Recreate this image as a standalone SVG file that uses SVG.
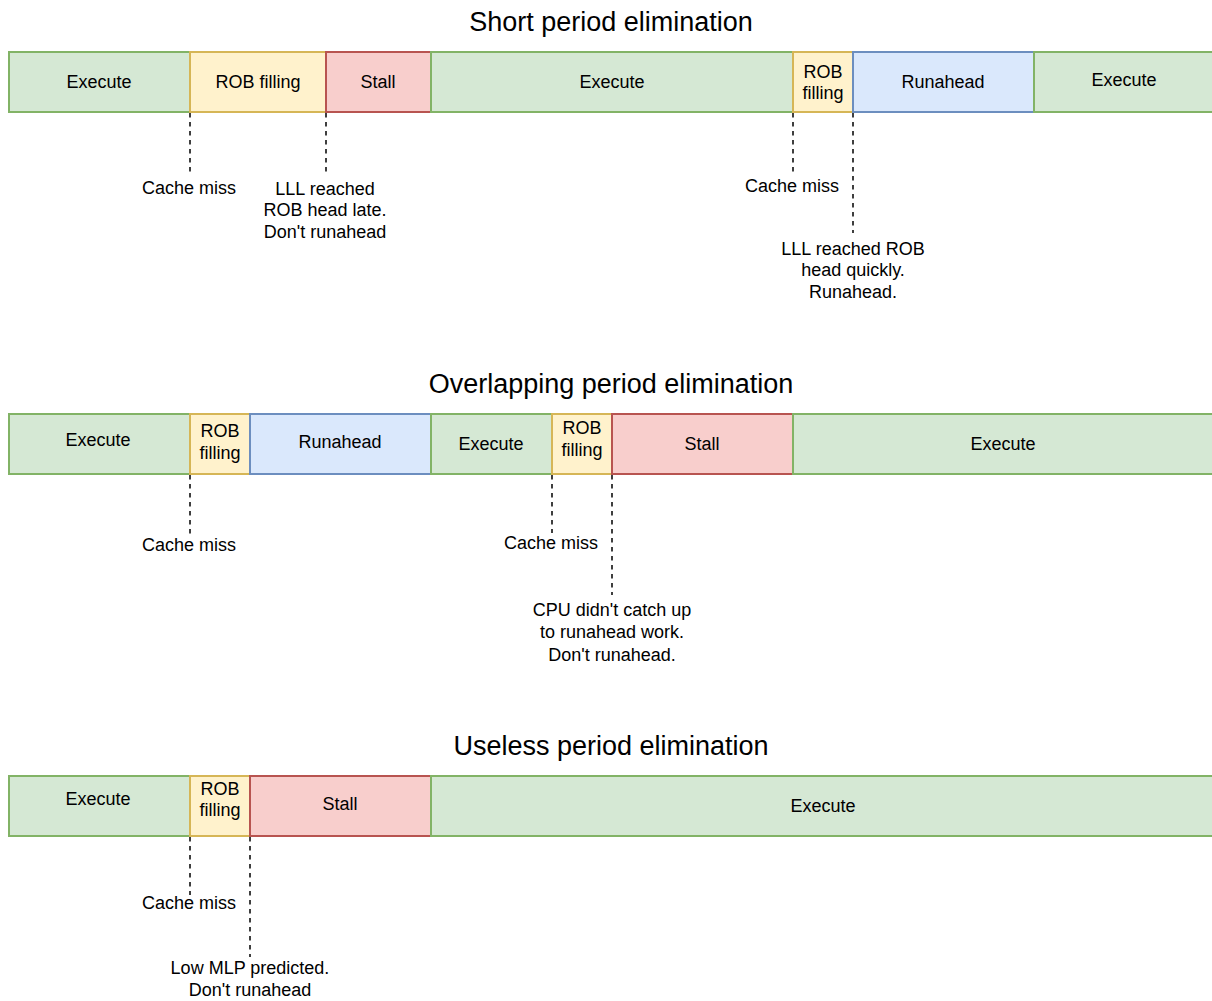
<svg xmlns="http://www.w3.org/2000/svg" width="1212" height="1001" viewBox="0 0 1212 1001">
<style>
text{font-family:"Liberation Sans",Arial,sans-serif;fill:#000;text-anchor:middle}
.t{font-size:27px}
.l{font-size:18px}
.g{fill:#d5e8d4;stroke:#82b366;stroke-width:2}
.y{fill:#fff2cc;stroke:#d6b656;stroke-width:2}
.r{fill:#f8cecc;stroke:#b85450;stroke-width:2}
.b{fill:#dae8fc;stroke:#6c8ebf;stroke-width:2}
.d{stroke:#000;stroke-width:1.5;stroke-dasharray:4.5 4.5;fill:none}
</style>
<rect width="1212" height="1001" fill="#fff"/>
<text class="t" x="611" y="31">Short period elimination</text>
<text class="t" x="611" y="393">Overlapping period elimination</text>
<text class="t" x="611" y="755">Useless period elimination</text>

<g id="r1-exec1"><rect class="g" x="9" y="52" width="181" height="60"/><text class="l" x="99" y="88">Execute</text></g>
<g id="r1-rob1"><rect class="y" x="190" y="52" width="136" height="60"/><text class="l" x="258" y="88">ROB filling</text></g>
<g id="r1-stall"><rect class="r" x="326" y="52" width="105" height="60"/><text class="l" x="378" y="88">Stall</text></g>
<g id="r1-exec2"><rect class="g" x="431" y="52" width="362" height="60"/><text class="l" x="612" y="88">Execute</text></g>
<g id="r1-rob2"><rect class="y" x="793" y="52" width="60" height="60"/><text class="l" x="823" y="78">ROB</text><text class="l" x="823" y="99">filling</text></g>
<g id="r1-run"><rect class="b" x="853" y="52" width="181" height="60"/><text class="l" x="943" y="88">Runahead</text></g>
<g id="r1-exec3"><rect class="g" x="1034" y="52" width="190" height="60"/><text class="l" x="1124" y="86">Execute</text></g>

<g id="r2-exec1"><rect class="g" x="9" y="414" width="181" height="60"/><text class="l" x="98" y="446">Execute</text></g>
<g id="r2-rob1"><rect class="y" x="190" y="414" width="60" height="60"/><text class="l" x="220" y="437">ROB</text><text class="l" x="220" y="459">filling</text></g>
<g id="r2-run"><rect class="b" x="250" y="414" width="181" height="60"/><text class="l" x="340" y="448">Runahead</text></g>
<g id="r2-exec2"><rect class="g" x="431" y="414" width="121" height="60"/><text class="l" x="491" y="450">Execute</text></g>
<g id="r2-rob2"><rect class="y" x="552" y="414" width="60" height="60"/><text class="l" x="582" y="434">ROB</text><text class="l" x="582" y="456">filling</text></g>
<g id="r2-stall"><rect class="r" x="612" y="414" width="181" height="60"/><text class="l" x="702" y="450">Stall</text></g>
<g id="r2-exec3"><rect class="g" x="793" y="414" width="431" height="60"/><text class="l" x="1003" y="450">Execute</text></g>

<g id="r3-exec1"><rect class="g" x="9" y="776" width="181" height="60"/><text class="l" x="98" y="805">Execute</text></g>
<g id="r3-rob"><rect class="y" x="190" y="776" width="60" height="60"/><text class="l" x="220" y="795">ROB</text><text class="l" x="220" y="816">filling</text></g>
<g id="r3-stall"><rect class="r" x="250" y="776" width="181" height="60"/><text class="l" x="340" y="810">Stall</text></g>
<g id="r3-exec2"><rect class="g" x="431" y="776" width="793" height="60"/><text class="l" x="823" y="812">Execute</text></g>

<g id="connectors">
<line class="d" x1="190" y1="113" x2="190" y2="172"/>
<line class="d" x1="326" y1="113" x2="326" y2="173"/>
<line class="d" x1="793" y1="113" x2="793" y2="172"/>
<line class="d" x1="853" y1="113" x2="853" y2="233"/>
<line class="d" x1="190" y1="475" x2="190" y2="535"/>
<line class="d" x1="552" y1="475" x2="552" y2="533"/>
<line class="d" x1="612" y1="475" x2="612" y2="595"/>
<line class="d" x1="190" y1="837" x2="190" y2="895"/>
<line class="d" x1="250" y1="837" x2="250" y2="957"/>
</g>

<g id="labels">
<text class="l" x="189" y="194">Cache miss</text>
<text class="l" x="325" y="195">LLL reached</text>
<text class="l" x="325" y="216">ROB head late.</text>
<text class="l" x="325" y="238">Don't runahead</text>
<text class="l" x="792" y="192">Cache miss</text>
<text class="l" x="853" y="255">LLL reached ROB</text>
<text class="l" x="853" y="276">head quickly.</text>
<text class="l" x="853" y="298">Runahead.</text>
<text class="l" x="189" y="551">Cache miss</text>
<text class="l" x="551" y="549">Cache miss</text>
<text class="l" x="612" y="616">CPU didn't catch up</text>
<text class="l" x="612" y="638">to runahead work.</text>
<text class="l" x="612" y="661">Don't runahead.</text>
<text class="l" x="189" y="909">Cache miss</text>
<text class="l" x="250" y="974">Low MLP predicted.</text>
<text class="l" x="250" y="996">Don't runahead</text>
</g>
</svg>
